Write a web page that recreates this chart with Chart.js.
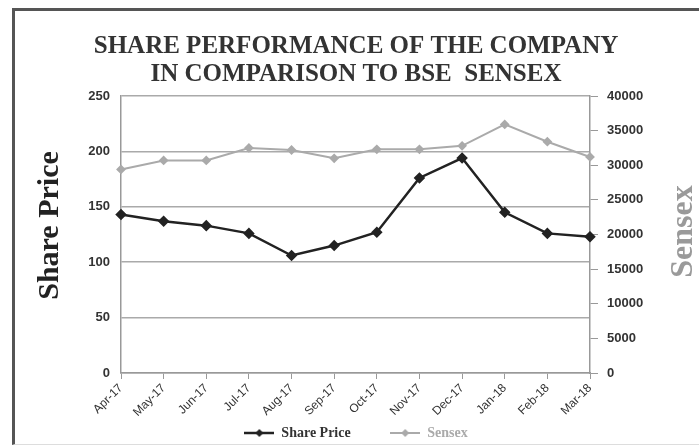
<!DOCTYPE html>
<html>
<head>
<meta charset="utf-8">
<script src="https://cdn.jsdelivr.net/npm/chart.js@4.4.0/dist/chart.umd.min.js"></script>
<style>
  html, body { margin: 0; padding: 0; background: #fff; overflow: hidden; }
  #frame {
    position: absolute; left: 12px; top: 8px; width: 700px; height: 433px;
    border-top: 3px solid #555; border-left: 3px solid #555; border-bottom: 1px solid #ddd;
  }
  #wrap { position: absolute; left: 0; top: 0; width: 699px; height: 445px; overflow: hidden; }
</style>
</head>
<body>
<div id="frame"></div>
<div id="wrap"><canvas id="chart" width="699" height="456"></canvas></div>
<script>
// data
const months = ['Apr-17', 'May-17', 'Jun-17', 'Jul-17', 'Aug-17', 'Sep-17',
                'Oct-17', 'Nov-17', 'Dec-17', 'Jan-18', 'Feb-18', 'Mar-18'];
const sharePrice = [143, 137, 133, 126, 106, 115, 127, 176, 194, 145, 126, 123];
const sensex = [29400, 30700, 30700, 32500, 32200, 31000, 32300, 32300, 32800, 35900, 33400, 31200];
const priceTicks = [0, 50, 100, 150, 200, 250];
const sensexTicks = [0, 5000, 10000, 15000, 20000, 25000, 30000, 35000, 40000];

const titleLines = ['SHARE PERFORMANCE OF THE COMPANY', 'IN COMPARISON TO BSE  SENSEX'];

// little line+diamond icons for the legend
function legendIcon(color, lw) {
  const c = document.createElement('canvas');
  c.width = 30; c.height = 10;
  const g = c.getContext('2d');
  g.strokeStyle = color; g.fillStyle = color; g.lineWidth = lw;
  g.beginPath(); g.moveTo(0, 5); g.lineTo(30, 5); g.stroke();
  g.beginPath(); g.moveTo(15, 1); g.lineTo(19, 5); g.lineTo(15, 9); g.lineTo(11, 5); g.closePath(); g.fill();
  return c;
}

// both axis titles read bottom-to-top, drawn here so they sit where the reference has them
const axisTitles = {
  id: 'axisTitles',
  afterDraw(chart) {
    const ctx = chart.ctx;
    const a = chart.chartArea;
    const mid = (a.top + a.bottom) / 2;
    ctx.save();
    ctx.textAlign = 'center';
    ctx.textBaseline = 'middle';
    ctx.translate(50, mid - 9);
    ctx.rotate(-Math.PI / 2);
    ctx.font = 'bold 30px "Liberation Serif"';
    ctx.fillStyle = '#222';
    ctx.fillText('Share Price', 0, 0);
    ctx.restore();

    ctx.save();
    ctx.textAlign = 'center';
    ctx.textBaseline = 'middle';
    ctx.translate(684, mid - 3);
    ctx.rotate(-Math.PI / 2);
    ctx.font = 'bold 32px "Liberation Serif"';
    ctx.fillStyle = '#9a9a9a';
    ctx.fillText('Sensex', 0, 0);
    ctx.restore();
  }
};

const chart = new Chart(document.getElementById('chart'), {
  type: 'line',
  data: {
    labels: months,
    datasets: [
      {
        label: 'Share Price',
        data: sharePrice,
        yAxisID: 'y',
        borderColor: '#222',
        backgroundColor: '#222',
        borderWidth: 2.5,
        pointStyle: 'rectRot',
        pointRadius: 4,
        tension: 0
      },
      {
        label: 'Sensex',
        data: sensex,
        yAxisID: 'y2',
        borderColor: '#aaa',
        backgroundColor: '#aaa',
        borderWidth: 2,
        pointStyle: 'rectRot',
        pointRadius: 3.5,
        tension: 0
      }
    ]
  },
  options: {
    responsive: false,
    animation: false,
    layout: { padding: { top: 23, left: 13, right: 0, bottom: 6 } },
    plugins: {
      title: {
        display: true,
        text: titleLines,
        color: '#333',
        font: { family: '"Liberation Serif"', size: 25, weight: 'bold', lineHeight: 1.12 },
        padding: { top: 10, bottom: 7 }
      },
      legend: {
        position: 'bottom',
        labels: {
          usePointStyle: true,
          pointStyleWidth: 30,
          font: { family: '"Liberation Serif"', size: 14, weight: 'bold' },
          padding: 8,
          generateLabels(ch) {
            return ch.data.datasets.map((ds, i) => ({
              // trailing spaces open the gap between the two entries
              text: i === 0 ? ds.label + '\u00a0'.repeat(9) : ds.label,
              datasetIndex: i,
              pointStyle: legendIcon(ds.borderColor, i === 0 ? 2.5 : 2),
              fillStyle: ds.borderColor,
              strokeStyle: ds.borderColor,
              lineWidth: 0,
              fontColor: i === 0 ? '#333' : '#aaa',
              hidden: false
            }));
          }
        }
      },
      tooltip: { enabled: false }
    },
    scales: {
      x: {
        offset: false,
        grid: { drawOnChartArea: false, drawTicks: true, tickLength: 6, color: '#999' },
        border: { color: '#999', width: 1.5 },
        ticks: {
          minRotation: 45, maxRotation: 45, padding: 2,
          color: '#333',
          font: { family: '"Liberation Sans"', size: 12 }
        },
        afterFit(scale) { scale.height = 45; }
      },
      y: {
        position: 'left',
        min: priceTicks[0],
        max: priceTicks[priceTicks.length - 1],
        ticks: {
          stepSize: priceTicks[1] - priceTicks[0],
          padding: 11,
          color: '#333',
          font: { family: '"Liberation Sans"', size: 13, weight: 'bold' }
        },
        grid: { color: '#aaa', lineWidth: 1.5, drawTicks: false },
        border: { color: '#999', width: 1.5 },
        afterFit(scale) { scale.width = 121 - 13; }
      },
      y2: {
        position: 'right',
        min: sensexTicks[0],
        max: sensexTicks[sensexTicks.length - 1],
        ticks: {
          stepSize: sensexTicks[1] - sensexTicks[0],
          padding: 9,
          color: '#333',
          font: { family: '"Liberation Sans"', size: 13, weight: 'bold' },
          callback: (v) => String(v)
        },
        grid: { drawOnChartArea: false, drawTicks: true, tickLength: 8, color: '#999' },
        border: { color: '#999', width: 1.5 },
        afterFit(scale) { scale.width = 699 - 590; }
      }
    }
  },
  plugins: [axisTitles]
});
</script>
</body>
</html>
